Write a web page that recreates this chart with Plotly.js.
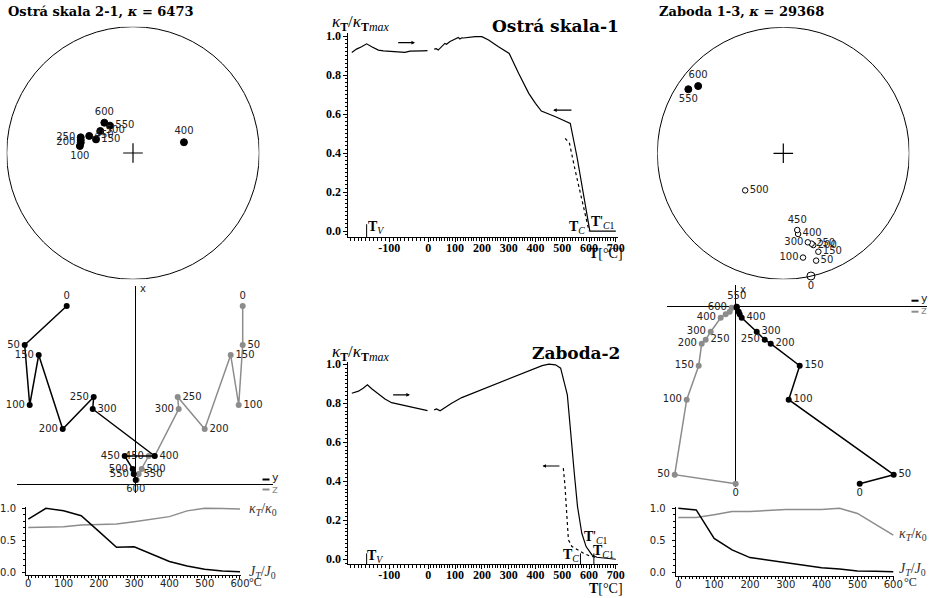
<!DOCTYPE html>
<html><head><meta charset="utf-8">
<script src="https://cdn.plot.ly/plotly-3.0.1.min.js"></script>
<style>html,body{margin:0;padding:0;background:#fff}#g{width:936px;height:598px}</style>
</head><body><div id="g"></div>
<script>
// ---------------- DATA ----------------
// Stereonets (declination, inclination in degrees)
const osStereoSteps = [100,150,200,250,300,400,450,500,550,600];
const osStereoDec   = [277.5,290.2,281.2,286.7,284.0,78.1,291.3,303.9,319.9,316.6];
const osStereoInc   = [55.1,64.5,55.3,54.4,54.9,56.1,59.5,64.5,66.9,63.0];

const zbStereoSteps = [0,50,100,150,200,250,300,400,450,500,550,600];
const zbStereoDec   = [167.3,163.0,169.3,160.4,161.9,162.6,164.6,169.6,169.7,225.8,304.0,308.3];
const zbStereoInc   = [-0.2,-11.9,-16.9,-18.2,-24.4,-25.8,-27.6,-35.2,-38.1,-55.3,10.0,15.0];

// Zijderveld diagrams (arbitrary units)
const zSteps   = [0,50,100,150,200,250,300,400,450,500,550,600];
const osZNorth = [1.78,1.39,0.79,1.29,0.55,0.87,0.75,0.28,0.28,0.15,0.10,0.04];
const osZEast  = [-0.69,-1.11,-1.06,-0.97,-0.73,-0.42,-0.43,0.19,-0.11,-0.03,-0.02,0.0];
const osZUp    = [1.07,1.07,1.03,0.95,0.69,0.42,0.43,0.19,0.13,0.06,0.03,0.01];
const zbZNorth = [-1.77,-1.68,-0.93,-0.59,-0.37,-0.33,-0.25,-0.11,-0.075,-0.05,0.0,-0.01];
const zbZEast  = [1.24,1.58,0.53,0.64,0.35,0.29,0.21,0.06,0.04,0.03,0.01,0.01];
const zbZUp    = [0.0,-0.61,-0.49,-0.37,-0.34,-0.30,-0.25,-0.15,-0.10,-0.06,0.01,-0.04];

// Demagnetisation / susceptibility decay
const decaySteps = [0,50,100,150,200,250,300,400,450,500,550,600];
const osJ = [0.83,1.0,0.96,0.885,0.64,0.39,0.40,0.17,0.10,0.047,0.02,0.01];
const osK = [0.70,0.705,0.71,0.74,0.75,0.755,0.79,0.87,0.96,1.0,0.995,0.99];
const zbJ = [1.0,0.975,0.53,0.35,0.23,0.19,0.14,0.07,0.05,0.02,0.015,0.01];
const zbK = [0.855,0.855,0.90,0.95,0.95,0.96,0.98,0.98,1.0,0.92,0.75,0.58];

// Thermomagnetic curves: Ostrá skala-1
const osLowT  = [-196,-184,-171,-158,-145,-128,-115,-103,-90,-75,-60,-47,-35,-26,-15,-2];
const osLowK  = [0.916,0.933,0.945,0.96,0.945,0.928,0.924,0.923,0.922,0.921,0.916,0.923,0.922,0.923,0.924,0.925];
const osHighT = [22,30,37,45,50,56,62,68,75,81,87,94,100,106,112,118,125,131,137,150,162,175,200,225,262,302,337,375,400,422,475,530,555,579,598,603,700];
const osHighK = [0.933,0.935,0.928,0.94,0.945,0.952,0.962,0.958,0.967,0.972,0.976,0.98,0.983,0.99,0.993,0.985,0.991,0.99,0.991,0.993,0.997,0.997,0.997,0.98,0.945,0.911,0.809,0.706,0.655,0.615,0.586,0.552,0.381,0.193,0.039,0.0,0.0];
const osCoolT = [511,527,548,573,594,600];
const osCoolK = [0.475,0.45,0.313,0.159,0.022,0.0];

// Thermomagnetic curves: Zaboda-2
const zbLowT  = [-196,-179,-167,-156,-145,-128,-111,-94,-77,-60,-43,-26,-13,-2];
const zbLowK  = [0.851,0.862,0.877,0.894,0.874,0.846,0.822,0.803,0.795,0.788,0.778,0.771,0.766,0.762];
const zbHighT = [22,31,44,62,87,125,175,225,275,325,375,425,450,475,494,506,519,529,537,545,557,573,589,611,629,700];
const zbHighK = [0.766,0.771,0.761,0.778,0.80,0.829,0.856,0.885,0.911,0.937,0.966,0.993,1.0,0.997,0.98,0.911,0.843,0.689,0.55,0.441,0.27,0.133,0.065,0.022,0.01,0.0];
const zbCoolT = [504,510,516,523,536,560,579,600,623];
const zbCoolK = [0.467,0.38,0.25,0.10,0.065,0.045,0.031,0.018,0.01];

// ---------------- HELPERS ----------------
const W = 936, H = 598;
const dx = (a,b) => [a/W, b/W];
const dy = (top,bot) => [1-bot/H, 1-top/H];
const px = x => x/W, py = y => 1-y/H;
const SANS = 'DejaVu Sans', SERIF = 'DejaVu Serif', LSERIF = 'Liberation Serif';
const GRAY = '#8c8c8c', TXT = '#222';

function eqArea(dec, inc){
  const r = Math.SQRT2*Math.sin((90-Math.abs(inc))*Math.PI/360);
  return [r*Math.sin(dec*Math.PI/180), r*Math.cos(dec*Math.PI/180)];
}
function stereoTrace(steps, dec, inc, ax, ay, pos){
  const xy = dec.map((d,i)=>eqArea(d,inc[i]));
  return {
    type:'scatter', mode:'markers+text', xaxis:ax, yaxis:ay, cliponaxis:false,
    x: xy.map(p=>p[0]), y: xy.map(p=>p[1]),
    text: steps.map(s => pos[s] ? String(s) : ''),
    textposition: steps.map(s => pos[s] || 'middle right'),
    textfont:{family:SANS,size:10,color:TXT},
    marker:{symbol:'circle', opacity:1, size: steps.map((s,i)=> (s===0 && inc[i]<0) ? 8 : (inc[i]<0?5.5:7)),
      color: inc.map(v=> v<0 ? 'white':'black'), line:{color:'black', width:1}},
    hoverinfo:'skip', showlegend:false
  };
}
function zijTrace(steps, h, v, ax, ay, color, pos){
  return {
    type:'scatter', mode:'lines+markers+text', xaxis:ax, yaxis:ay, cliponaxis:false,
    x:h, y:v, text: steps.map(s => pos[s] ? String(s) : ''),
    textposition: steps.map(s => pos[s] || 'middle right'),
    textfont:{family:SANS,size:10,color:TXT},
    line:{color:color,width:1.5}, marker:{color:color,size:6,opacity:1},
    hoverinfo:'skip', showlegend:false
  };
}
function lineTrace(x,y,ax,ay,color,dash,width){
  return {type:'scatter',mode:'lines',x:x,y:y,xaxis:ax,yaxis:ay,
    line:{color:color,width:width||1.5,dash:dash||'solid'},hoverinfo:'skip',showlegend:false,cliponaxis:false};
}

// ---------------- TRACES ----------------
const ML='middle left', MR='middle right', TC='top center', BC='bottom center';
const traces = [];
traces.push(stereoTrace(osStereoSteps, osStereoDec, osStereoInc, 'x','y',
  {100:BC,150:MR,200:ML,250:ML,400:TC,450:MR,500:MR,550:MR,600:TC}));
traces.push(stereoTrace(zbStereoSteps, zbStereoDec, zbStereoInc, 'x2','y2',
  {0:BC,50:MR,100:ML,150:MR,200:MR,250:MR,300:ML,400:MR,450:TC,500:MR,550:BC,600:TC}));
// centre crosses
const crossMarker = {symbol:'cross-thin-open',size:14,color:'black',opacity:1,line:{color:'black',width:1.2}};
traces.push({type:'scatter',mode:'markers',x:[0],y:[0],xaxis:'x',yaxis:'y',marker:crossMarker,hoverinfo:'skip',showlegend:false});
traces.push({type:'scatter',mode:'markers',x:[0],y:[0],xaxis:'x2',yaxis:'y2',marker:crossMarker,hoverinfo:'skip',showlegend:false});

// Zijderveld
traces.push(zijTrace(zSteps, osZUp, osZNorth, 'x3','y3', GRAY,
  {0:TC,50:MR,100:MR,150:MR,200:MR,250:MR,300:ML,400:MR,450:ML,500:MR,550:MR}));
traces.push(zijTrace(zSteps, osZEast, osZNorth, 'x3','y3', 'black',
  {0:TC,50:ML,100:ML,150:ML,200:ML,250:ML,300:MR,450:ML,500:ML,550:ML,600:BC}));
traces.push(zijTrace(zSteps, zbZUp, zbZNorth, 'x4','y4', GRAY,
  {0:BC,50:ML,100:ML,150:ML,200:ML,250:MR,300:ML,400:ML,550:TC,600:ML}));
traces.push(zijTrace(zSteps, zbZEast, zbZNorth, 'x4','y4', 'black',
  {0:BC,50:MR,100:MR,150:MR,200:MR,250:ML,300:MR,400:MR}));

// decay curves
traces.push(lineTrace(decaySteps, osK, 'x5','y5', GRAY));
traces.push(lineTrace(decaySteps, osJ, 'x5','y5', 'black'));
traces.push(lineTrace(decaySteps, zbK, 'x6','y6', GRAY));
traces.push(lineTrace(decaySteps, zbJ, 'x6','y6', 'black'));

// thermomagnetic
traces.push(lineTrace(osLowT, osLowK, 'x7','y7','black','solid',1.2));
traces.push(lineTrace(osHighT, osHighK, 'x8','y7','black','solid',1.2));
traces.push(lineTrace(osCoolT, osCoolK, 'x8','y7','black','dot',1.2));
traces.push(lineTrace(zbLowT, zbLowK, 'x9','y9','black','solid',1.2));
traces.push(lineTrace(zbHighT, zbHighK, 'x10','y9','black','solid',1.2));
traces.push(lineTrace(zbCoolT, zbCoolK, 'x10','y9','black','dot',1.2));

// ---------------- AXES ----------------
const hidden = (dom, rng, anchor) => ({domain:dom, range:rng, anchor:anchor, visible:false, fixedrange:true});
const zij = (dom, rng, anchor) => ({domain:dom, range:rng, anchor:anchor, showgrid:false, showticklabels:false,
  ticks:'', showline:false, zeroline:true, zerolinecolor:'#000', zerolinewidth:1, fixedrange:true});
const serifTick = {family:LSERIF,size:12,weight:'bold',color:'#000'};
const sansTick = {family:SANS,size:10,color:TXT};
function midY(dom, rng, anchor){
  return {domain:dom, range:rng, anchor:anchor, showline:true, linecolor:'#000', linewidth:1,
    ticks:'outside', ticklen:4, tickcolor:'#000', tick0:0, dtick:0.2, tickformat:'.1f', tickfont:serifTick,
    minor:{ticks:'outside', ticklen:2, tickcolor:'#000', tick0:0, dtick:0.02},
    showgrid:false, zeroline:false, ticklabelstandoff:0};
}
function midXLow(dom, anchor){
  return {domain:dom, range:[-205,0], anchor:anchor, showline:true, linecolor:'#000', linewidth:1,
    ticks:'outside', ticklen:4, tickcolor:'#000', tickvals:[-100], ticktext:['-100'], tickfont:serifTick,
    minor:{ticks:'outside', ticklen:2.5, tickcolor:'#000', tickmode:'linear', tick0:0, dtick:10},
    showgrid:false, zeroline:false, ticklabelstandoff:-5};
}
function midXHigh(dom, anchor){
  return {domain:dom, range:[0,707], anchor:anchor, showline:true, linecolor:'#000', linewidth:1,
    ticks:'outside', ticklen:4, tickcolor:'#000', tick0:0, dtick:100, tickfont:serifTick,
    minor:{ticks:'outside', ticklen:2.5, tickcolor:'#000', tick0:0, dtick:10},
    showgrid:false, zeroline:false, ticklabelstandoff:-5};
}
function smallX(dom, rng, anchor){
  return {domain:dom, range:rng, anchor:anchor, showline:true, linecolor:'#000', linewidth:1,
    ticks:'outside', ticklen:3, tickcolor:'#000', tick0:0, dtick:100, tickfont:sansTick,
    minor:{ticks:'outside', ticklen:2, tickcolor:'#000', tick0:0, dtick:10},
    showgrid:false, zeroline:false, ticklabelstandoff:-4};
}
function smallY(dom, rng, anchor){
  return {domain:dom, range:rng, anchor:anchor, showline:true, linecolor:'#000', linewidth:1,
    ticks:'outside', ticklen:3, tickcolor:'#000', tickvals:[0,0.5,1], tickformat:'.1f', tickfont:sansTick,
    minor:{ticks:'outside', ticklen:2, tickcolor:'#000', tickmode:'linear', tick0:0, dtick:0.1},
    showgrid:false, zeroline:false, ticklabelstandoff:4};
}

// ---------------- ANNOTATIONS ----------------
function ann(text, x, y, o){
  return Object.assign({text:text, x:px(x), y:py(y), xref:'paper', yref:'paper', showarrow:false,
    xanchor:'left', yanchor:'middle', font:{family:SERIF,size:13,color:'#000'}}, o||{});
}
const ttl = {family:SERIF,size:13,color:'#000',weight:'bold'};
const big = {family:SERIF,size:17,color:'#000',weight:'bold'};
const tl = {family:LSERIF,size:14,color:'#000'};
const yl = {family:LSERIF,size:17,color:'#000'};
const kl = {family:LSERIF,size:14,color:'#333'};
const annotations = [
  ann('Ostrá skala 2-1, <i>κ</i> = 6473', 6, 12, {font:ttl}),
  ann('Zaboda 1-3, <i>κ</i> = 29368', 657, 12, {font:ttl}),
  ann('Ostrá skala-1', 621, 25.5, {xanchor:'right', font:big}),
  ann('Zaboda-2', 622, 352.5, {xanchor:'right', font:big}),
  ann('<i>κ</i><sub><b>T</b></sub>/<i>κ</i><sub><b>T</b><i>max</i></sub>', 330, 23, {font:yl}),
  ann('<i>κ</i><sub><b>T</b></sub>/<i>κ</i><sub><b>T</b><i>max</i></sub>', 330, 353, {font:yl}),
  ann('<b>T</b>[°C]', 625, 253, {xanchor:'right', font:tl}),
  ann('<b>T</b>[°C]', 625, 588, {xanchor:'right', font:tl}),
  ann('<b>T</b><sub><i>V</i></sub>', 366, 228, {font:tl}),
  ann('<b>T</b><sub><i>C</i></sub>', 567, 228, {font:tl}),
  ann("<b>T</b>'<sub><i>C</i>1</sub>", 589, 223, {font:tl}),
  ann('<b>T</b><sub><i>V</i></sub>', 365, 556, {font:tl}),
  ann('<b>T</b><sub><i>C</i></sub>', 561, 555, {font:tl}),
  ann("<b>T</b>'<sub><i>C</i>1</sub>", 582, 537, {font:tl}),
  ann('<b>T</b><sub><i>C</i>1</sub>', 591, 551, {font:tl}),
  ann('<i>κ<sub>T</sub></i>/<i>κ</i><sub>0</sub>', 247, 509, {font:kl}),
  ann('<i>J<sub>T</sub></i>/<i>J</i><sub>0</sub>', 247, 572, {font:kl}),
  ann('<i>κ<sub>T</sub></i>/<i>κ</i><sub>0</sub>', 897, 534, {font:kl}),
  ann('<i>J<sub>T</sub></i>/<i>J</i><sub>0</sub>', 897, 569, {font:kl}),
  ann('°C', 247, 582, {font:{family:LSERIF,size:12,color:TXT}}),
  ann('°C', 902, 582, {font:{family:LSERIF,size:12,color:TXT}}),
  ann('x', 138, 288, {font:{family:SANS,size:10,color:TXT}}),
  ann('x', 738, 289, {font:{family:SANS,size:10,color:TXT}}),
  ann('y', 270, 477, {font:{family:SANS,size:11,color:TXT}}),
  ann('z', 270, 489, {font:{family:SANS,size:11,color:GRAY}}),
  ann('y', 919, 298.5, {font:{family:SANS,size:11,color:TXT}}),
  ann('z', 919, 310.5, {font:{family:SANS,size:11,color:GRAY}}),
  // heating / cooling arrows
  {x:-34,y:0.966,ax:-81,ay:0.966,xref:'x7',yref:'y7',axref:'x7',ayref:'y7',text:'',showarrow:true,arrowhead:2,arrowsize:0.6,arrowwidth:1.2,arrowcolor:'#000'},
  {x:466,y:0.62,ax:540,ay:0.62,xref:'x8',yref:'y7',axref:'x8',ayref:'y7',text:'',showarrow:true,arrowhead:2,arrowsize:0.6,arrowwidth:1.2,arrowcolor:'#000'},
  {x:-47,y:0.843,ax:-94,ay:0.843,xref:'x9',yref:'y9',axref:'x9',ayref:'y9',text:'',showarrow:true,arrowhead:2,arrowsize:0.6,arrowwidth:1.2,arrowcolor:'#000'},
  {x:426,y:0.478,ax:495,ay:0.478,xref:'x10',yref:'y9',axref:'x10',ayref:'y9',text:'',showarrow:true,arrowhead:2,arrowsize:0.6,arrowwidth:1.2,arrowcolor:'#000'}
];

// ---------------- SHAPES ----------------
const shapes = [
  {type:'circle',xref:'x',yref:'y',x0:-1,y0:-1,x1:1,y1:1,line:{color:'#000',width:1}},
  {type:'circle',xref:'x2',yref:'y2',x0:-1,y0:-1,x1:1,y1:1,line:{color:'#000',width:1}},
  {type:'line',xref:'paper',yref:'paper',x0:px(262.5),x1:px(269.5),y0:py(479.5),y1:py(479.5),line:{color:'#000',width:2}},
  {type:'line',xref:'paper',yref:'paper',x0:px(262.5),x1:px(269.5),y0:py(489.5),y1:py(489.5),line:{color:GRAY,width:2}},
  {type:'line',xref:'paper',yref:'paper',x0:px(911.5),x1:px(918.5),y0:py(300.7),y1:py(300.7),line:{color:'#000',width:2}},
  {type:'line',xref:'paper',yref:'paper',x0:px(911.5),x1:px(918.5),y0:py(311.7),y1:py(311.7),line:{color:GRAY,width:2}},
  {type:'line',xref:'x7',yref:'y7',x0:-158,x1:-158,y0:-0.032,y1:0.035,line:{color:'#000',width:1}},
  {type:'line',xref:'x9',yref:'y9',x0:-158,x1:-158,y0:-0.026,y1:0.03,line:{color:'#000',width:1}},
  {type:'line',xref:'x10',yref:'y9',x0:568,x1:568,y0:-0.026,y1:0.03,line:{color:'#000',width:1}},
  {type:'line',xref:'x10',yref:'y9',x0:618,x1:618,y0:-0.026,y1:0.03,line:{color:'#000',width:1}}
];

const layout = {
  width:W, height:H, margin:{l:0,r:0,t:0,b:0}, paper_bgcolor:'#fff', plot_bgcolor:'rgba(0,0,0,0)',
  showlegend:false, annotations:annotations, shapes:shapes,
  xaxis: hidden(dx(6.7,259.3), [-1,1], 'y'),
  yaxis: hidden(dy(26.7,279.3), [-1,1], 'x'),
  xaxis2: hidden(dx(657.3,909.3), [-1,1], 'y2'),
  yaxis2: hidden(dy(27.3,279.3), [-1,1], 'x2'),
  xaxis3: zij(dx(16.7,273), [-1.19,1.373], 'y3'),
  yaxis3: zij(dy(286,493), [-0.09,1.98], 'x3'),
  xaxis4: zij(dx(666.7,926.7), [-0.69,1.91], 'y4'),
  yaxis4: zij(dy(285,486.7), [-1.80,0.217], 'x4'),
  xaxis5: smallX(dx(26,240.7), [-6.5,602], 'y5'),
  yaxis5: smallY(dy(506.7,575), [-0.042,1.025], 'x5'),
  xaxis6: smallX(dx(675.7,894), [-7.3,602], 'y6'),
  yaxis6: smallY(dy(506.7,575.7), [-0.053,1.025], 'x6'),
  xaxis7: midXLow(dx(348.3,428.3), 'y7'),
  xaxis8: midXHigh(dx(428.3,617.7), 'y7'),
  yaxis7: midY(dy(33.3,237.3), [-0.032,1.014], 'x7'),
  xaxis9: midXLow(dx(348.3,428.3), 'y9'),
  xaxis10: midXHigh(dx(428.3,617.7), 'y9'),
  yaxis9: midY(dy(361.7,564.3), [-0.026,1.013], 'x9')
};

Plotly.newPlot('g', traces, layout, {staticPlot:true, displayModeBar:false});
</script>
</body></html>
